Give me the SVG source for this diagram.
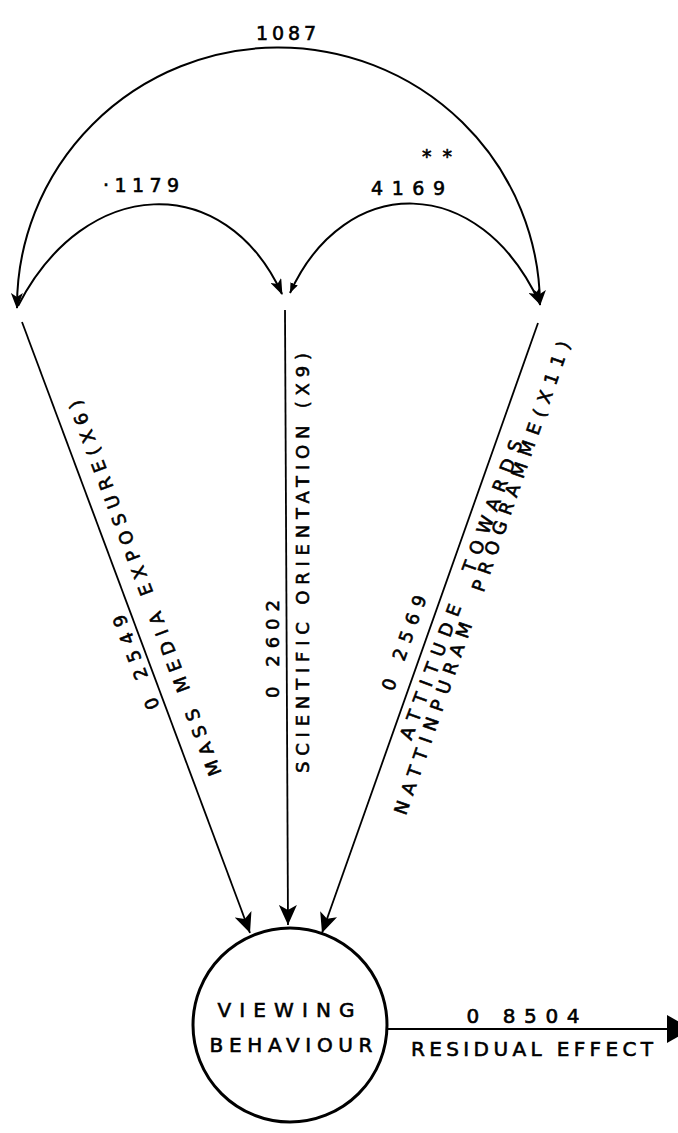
<svg xmlns="http://www.w3.org/2000/svg" width="678" height="1133" viewBox="0 0 678 1133">
<style>
text{font-family:"DejaVu Sans","Liberation Sans",Arial,sans-serif;fill:#000;stroke:#000;stroke-width:0.6;}
.lbl{font-size:18px;}
.num{font-size:19px;}
.big{font-size:20px;}
.conn{fill:none;stroke:#000;stroke-width:1.8;}
.arc{fill:none;stroke:#000;stroke-width:2;}
</style>
<defs>
<marker id="ahS" markerUnits="userSpaceOnUse" markerWidth="16" markerHeight="12" viewBox="0 0 16 12" refX="15" refY="6" orient="auto-start-reverse">
<path d="M0,0 L16,6 L0,12 L4,6 z" fill="#000"/>
</marker>
<marker id="ahT" markerUnits="userSpaceOnUse" markerWidth="10" markerHeight="8" viewBox="0 0 10 8" refX="10" refY="4" orient="auto-start-reverse">
<path d="M0,0 L10,4 L0,8 z" fill="#000"/>
</marker>
<marker id="ahL" markerUnits="userSpaceOnUse" markerWidth="20" markerHeight="18" viewBox="0 0 20 18" refX="20" refY="9" orient="auto">
<path d="M0,0 L20,9 L0,18 L5,9 z" fill="#000"/>
</marker>
</defs>
<g id="connectors">
<path class="arc" d="M 17 308 A 261.5 259 0 0 1 540 305" marker-start="url(#ahS)" marker-end="url(#ahS)"/>
<path class="arc" d="M 18 306 C 85 175, 225 170, 282 294" marker-end="url(#ahS)"/>
<path class="arc" d="M 290 293 C 345 172, 480 172, 540 304" marker-start="url(#ahT)" marker-end="url(#ahS)"/>
<path class="conn" d="M 22 322 L 250 933" marker-end="url(#ahL)"/>
<path class="conn" d="M 285 310 L 288 925" marker-end="url(#ahL)"/>
<path class="conn" d="M 538 323 L 322 933" marker-end="url(#ahL)"/>
<path class="conn" d="M 388 1029 L 670 1029"/>
<polygon points="667,1015 692,1029 667,1043" fill="#000"/>
</g>
<g id="arc-labels">
<text class="num" x="286" y="40" text-anchor="middle" textLength="60">1087</text>
<text class="num" x="141" y="192" text-anchor="middle" textLength="76">·1179</text>
<text class="num" x="437" y="163" text-anchor="middle" textLength="30">**</text>
<text class="num" x="408" y="195" text-anchor="middle" textLength="74">4169</text>
</g>
<g id="x6">
<text class="lbl" transform="translate(151,586) rotate(-110.7)" text-anchor="middle" textLength="400">MASS MEDIA EXPOSURE(X6)</text>
<text class="lbl" transform="translate(142,660) rotate(-110.7)" text-anchor="middle" textLength="100">0 2549</text>
</g>
<g id="x9">
<text class="lbl" transform="translate(309,563) rotate(-90)" text-anchor="middle" textLength="420">SCIENTIFIC ORIENTATION (X9)</text>
<text class="lbl" transform="translate(279,649) rotate(-90)" text-anchor="middle" textLength="98">0 2602</text>
</g>
<g id="x11">
<text class="lbl" xml:space="preserve" transform="translate(467,592) rotate(-69.5)" text-anchor="middle" textLength="318">ATTITUDE  TOWARDS</text>
<text class="lbl" xml:space="preserve" transform="translate(488,580) rotate(-70.8)" text-anchor="middle" textLength="500">NATTINPURAM  PROGRAMME(X11)</text>
<text class="lbl" transform="translate(410,645) rotate(-70.4)" text-anchor="middle" textLength="100">0 2569</text>
</g>
<g id="viewing-behaviour">
<circle cx="290" cy="1025" r="97" fill="none" stroke="#000" stroke-width="3"/>
<text class="big" x="286" y="1017" text-anchor="middle" textLength="137">VIEWING</text>
<text class="big" x="291" y="1052" text-anchor="middle" textLength="163">BEHAVIOUR</text>
</g>
<g id="residual">
<text class="big" x="523" y="1023" text-anchor="middle" textLength="113">0 8504</text>
<text class="big" x="532" y="1056" text-anchor="middle" textLength="242">RESIDUAL EFFECT</text>
</g>
</svg>
